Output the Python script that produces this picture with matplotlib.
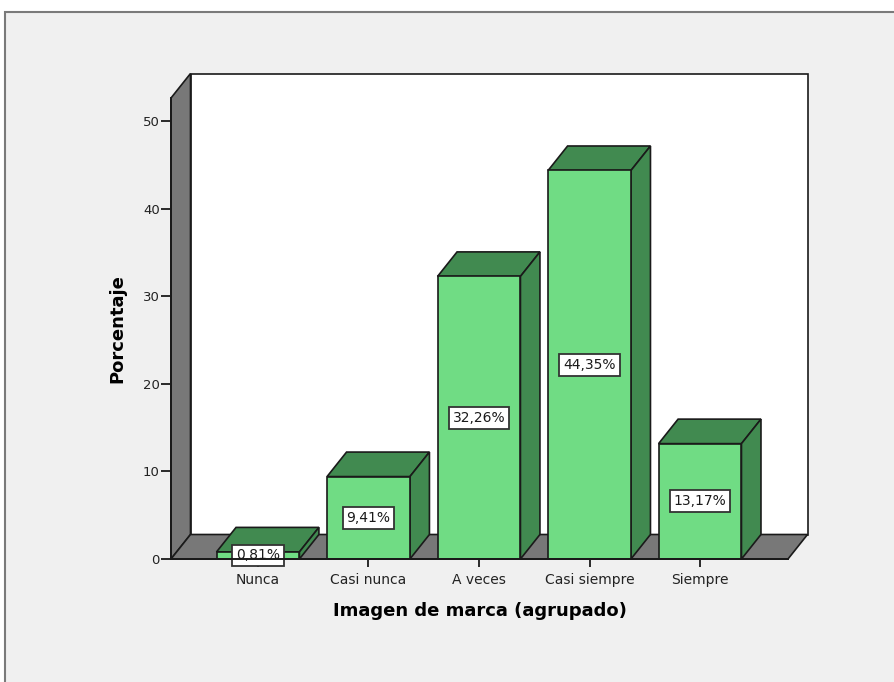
import matplotlib.pyplot as plt
from matplotlib.patches import Polygon, Rectangle

# Datos del grafico
categorias = ["Nunca", "Casi nunca", "A veces", "Casi siempre", "Siempre"]
porcentajes = [0.81, 9.41, 32.26, 44.35, 13.17]
etiquetas = ["0,81%", "9,41%", "32,26%", "44,35%", "13,17%"]
yticks = [0, 10, 20, 30, 40, 50]

VERDE = "#70dc84"
VERDE_OSC = "#418a50"
GRIS = "#787878"

fig = plt.figure(figsize=(8.95, 6.82), dpi=100)
fig.patch.set_facecolor("white")

# marco exterior gris
fig.patches.append(Rectangle((5 / 895, -0.01), 1.0, (682 - 12) / 682 + 0.01,
                             transform=fig.transFigure, facecolor="#f0f0f0",
                             edgecolor="#7a7a7a", lw=1.5, zorder=-10))

# ejes = plano frontal
left, right, bot, top = 171, 788, 559, 98
ax = fig.add_axes([left / 895, (682 - bot) / 682, (right - left) / 895, (bot - top) / 682])
ax.set_facecolor("none")
x0, x1 = -0.787, 4.796
ymax = (bot - top) / 8.76
ax.set_xlim(x0, x1)
ax.set_ylim(0, ymax)
for s in ax.spines.values():
    s.set_visible(False)

# profundidad en unidades de datos
dx = 19.5 / 110.5
dy = 24.5 / 8.76
ec = "#1a1a1a"

# pared de fondo
ax.add_patch(Polygon([(x0 + dx, dy), (x1 + dx, dy), (x1 + dx, ymax + dy), (x0 + dx, ymax + dy)],
                     closed=True, facecolor="white", edgecolor=ec, lw=1.2, clip_on=False, zorder=1))
# pared izquierda
ax.add_patch(Polygon([(x0, 0), (x0, ymax), (x0 + dx, ymax + dy), (x0 + dx, dy)],
                     closed=True, facecolor=GRIS, edgecolor=ec, lw=1.2, clip_on=False, zorder=2))
# piso
ax.add_patch(Polygon([(x0, 0), (x1, 0), (x1 + dx, dy), (x0 + dx, dy)],
                     closed=True, facecolor=GRIS, edgecolor=ec, lw=1.2, clip_on=False, zorder=2))

ancho = 0.75
for i, (v, lab) in enumerate(zip(porcentajes, etiquetas)):
    xl, xr = i - ancho / 2, i + ancho / 2
    ax.add_patch(Polygon([(xl, v), (xr, v), (xr + dx, v + dy), (xl + dx, v + dy)],
                         closed=True, facecolor=VERDE_OSC, edgecolor=ec, lw=1.2, clip_on=False, zorder=3))
    ax.add_patch(Polygon([(xr, 0), (xr, v), (xr + dx, v + dy), (xr + dx, dy)],
                         closed=True, facecolor=VERDE_OSC, edgecolor=ec, lw=1.2, clip_on=False, zorder=3))
    ax.add_patch(Rectangle((xl, 0), ancho, v, facecolor=VERDE, edgecolor=ec, lw=1.2,
                           clip_on=False, zorder=4))
    ax.text(i, v / 2, lab, ha="center", va="center", fontsize=10, color="#1a1a1a", zorder=5,
            bbox=dict(boxstyle="square,pad=0.28", facecolor="white", edgecolor="#333333", lw=1.3))

# ejes
ax.plot([x0, x0], [0, ymax], color=ec, lw=1.4, clip_on=False, zorder=6)
ax.plot([x0, x1], [0, 0], color=ec, lw=1.4, clip_on=False, zorder=6)

ax.set_yticks(yticks)
ax.set_yticklabels([str(t) for t in yticks], fontsize=9.5, color="#222222")
ax.set_xticks(range(len(categorias)))
ax.set_xticklabels(categorias, fontsize=10, color="#222222")
ax.tick_params(axis="y", length=7, width=1.3, color=ec, pad=1)
ax.tick_params(axis="x", length=6, width=1.3, color=ec, pad=4)

ax.set_ylabel("Porcentaje", fontsize=13, fontweight="bold", labelpad=12)
ax.set_xlabel("Imagen de marca (agrupado)", fontsize=13, fontweight="bold", labelpad=11)

fig.savefig("out.png", dpi=100)
